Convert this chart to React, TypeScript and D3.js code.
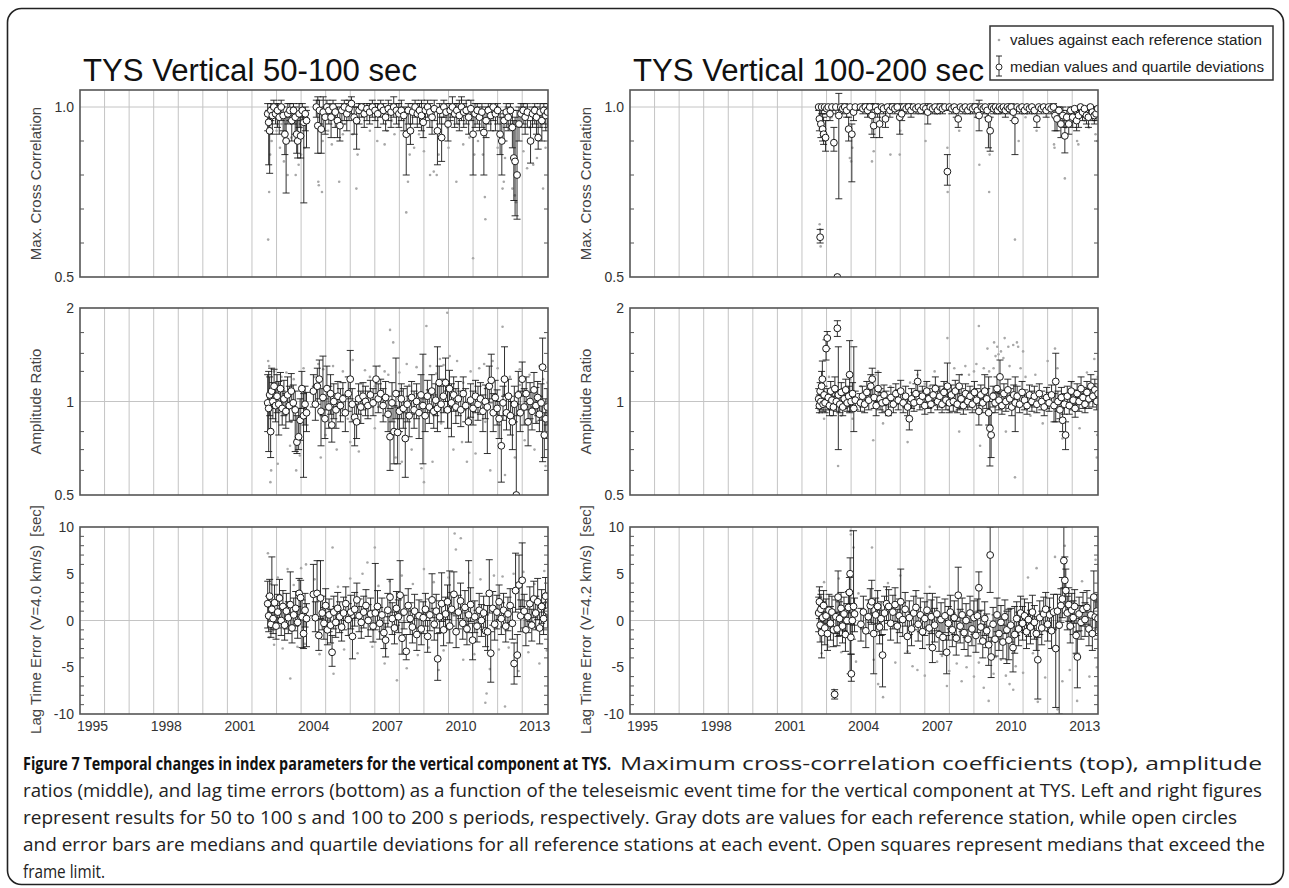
import React from 'react';
import * as d3 from 'd3';

// x axis (decimal years)
const X_DOMAIN = [1994, 2013.05];
const X_LABELS = [1995, 1998, 2001, 2004, 2007, 2010, 2013];
const GRID_YEARS = [1995, 1996, 1997, 1998, 1999, 2000, 2001, 2002, 2003, 2004, 2005, 2006, 2007, 2008, 2009, 2010, 2011, 2012];

const TITLES = ['TYS Vertical 50-100 sec', 'TYS Vertical 100-200 sec'];
const Y_TITLES = [
  ['Max. Cross Correlation', 'Amplitude Ratio', 'Lag Time Error (V=4.0 km/s)  [sec]'],
  ['Max. Cross Correlation', 'Amplitude Ratio', 'Lag Time Error (V=4.2 km/s)  [sec]'],
];

const CC_LABELS = [[1.0, '1.0'], [0.5, '0.5']];
const CC_MINOR = [0.6, 0.7, 0.8, 0.9];
const AR_LABELS = [[2, '2'], [1, '1'], [0.5, '0.5']];
const AR_MINOR = [0.6, 0.7, 0.8, 1.25, 1.4286, 1.6667];
const LT_LABELS = [[10, '10'], [5, '5'], [0, '0'], [-5, '-5'], [-10, '-10']];
const LT_MINOR = [-9, -8, -7, -6, -4, -3, -2, -1, 1, 2, 3, 4, 6, 7, 8, 9];

// events: [time, median, lower quartile, upper quartile]
// 50-100 s, max cross correlation
const CC_L = [
  [2001.64, 0.98, 0.93, 1.01], [2001.68, 0.955, 0.83, 0.99], [2001.72, 0.93, 0.805, 0.99], [2001.77, 0.99, 0.96, 1.01],
  [2001.83, 0.975, 0.92, 1.0], [2001.89, 1.0, 0.97, 1.02], [2001.96, 0.98, 0.95, 1.01], [2002.04, 0.99, 0.94, 1.01],
  [2002.11, 0.97, 0.92, 1.0], [2002.19, 1.0, 0.96, 1.02], [2002.27, 0.975, 0.93, 1.0], [2002.34, 0.92, 0.86, 0.98],
  [2002.39, 0.9, 0.747, 0.97], [2002.46, 0.98, 0.95, 1.01], [2002.54, 0.99, 0.96, 1.01], [2002.62, 0.96, 0.9, 0.99],
  [2002.69, 0.99, 0.95, 1.01], [2002.76, 0.97, 0.92, 1.0], [2002.82, 0.92, 0.864, 0.97], [2002.86, 0.9, 0.85, 0.96],
  [2002.92, 0.98, 0.94, 1.01], [2002.98, 0.915, 0.85, 0.97], [2003.05, 0.99, 0.95, 1.01], [2003.11, 0.955, 0.718, 0.99],
  [2003.17, 0.98, 0.93, 1.0], [2003.22, 0.96, 0.88, 0.99],
  [2003.62, 1.0, 0.97, 1.02], [2003.68, 0.945, 0.864, 1.03], [2003.75, 0.99, 0.95, 1.02], [2003.82, 0.935, 0.864, 0.99],
  [2003.9, 0.985, 0.93, 1.03], [2003.98, 0.97, 0.92, 1.0], [2004.05, 1.0, 0.97, 1.02], [2004.13, 0.99, 0.95, 1.01],
  [2004.22, 0.97, 0.91, 1.0], [2004.3, 1.0, 0.97, 1.02], [2004.39, 0.985, 0.94, 1.01], [2004.48, 0.96, 0.91, 1.0],
  [2004.58, 0.945, 0.9, 0.99], [2004.66, 0.99, 0.95, 1.01], [2004.76, 1.0, 0.96, 1.02], [2004.86, 0.98, 0.93, 1.01],
  [2004.95, 0.995, 0.96, 1.02], [2005.05, 1.01, 0.98, 1.03], [2005.16, 0.97, 0.92, 1.0], [2005.26, 0.96, 0.876, 1.0],
  [2005.36, 0.99, 0.95, 1.01], [2005.46, 1.0, 0.97, 1.01], [2005.57, 0.98, 0.94, 1.0], [2005.68, 0.995, 0.96, 1.01],
  [2005.79, 0.985, 0.95, 1.01], [2005.9, 1.0, 0.97, 1.02], [2006.01, 0.99, 0.96, 1.01], [2006.12, 0.98, 0.94, 1.01],
  [2006.24, 1.0, 0.97, 1.02], [2006.35, 0.99, 0.95, 1.01], [2006.44, 0.97, 0.93, 1.0], [2006.55, 0.995, 0.96, 1.02],
  [2006.66, 0.985, 0.94, 1.01], [2006.77, 1.0, 0.97, 1.03], [2006.88, 0.99, 0.95, 1.01], [2006.98, 0.98, 0.94, 1.01],
  [2007.08, 0.99, 0.96, 1.02], [2007.18, 0.975, 0.93, 1.0], [2007.28, 0.92, 0.8, 0.99], [2007.36, 0.99, 0.95, 1.01],
  [2007.45, 0.93, 0.89, 0.98], [2007.54, 0.985, 0.95, 1.01], [2007.64, 1.0, 0.97, 1.02], [2007.73, 0.98, 0.94, 1.01],
  [2007.82, 0.99, 0.95, 1.01], [2007.9, 0.975, 0.93, 1.02], [2007.97, 0.955, 0.91, 0.99], [2008.06, 0.99, 0.96, 1.01],
  [2008.15, 1.0, 0.97, 1.02], [2008.24, 0.985, 0.94, 1.01], [2008.33, 0.97, 0.92, 1.0], [2008.42, 0.995, 0.96, 1.02],
  [2008.55, 0.93, 0.83, 0.99], [2008.64, 0.99, 0.95, 1.01], [2008.72, 0.91, 0.84, 0.97], [2008.81, 1.0, 0.97, 1.02],
  [2008.9, 0.985, 0.95, 1.01], [2008.98, 0.95, 0.9, 0.99], [2009.07, 0.99, 0.96, 1.01], [2009.16, 1.0, 0.97, 1.03],
  [2009.25, 0.98, 0.94, 1.01], [2009.34, 0.99, 0.95, 1.01], [2009.44, 0.975, 0.93, 1.02], [2009.53, 1.0, 0.96, 1.03],
  [2009.62, 0.985, 0.94, 1.01], [2009.72, 0.99, 0.95, 1.02], [2009.82, 0.97, 0.92, 1.0], [2009.91, 0.995, 0.96, 1.02],
  [2010.0, 0.92, 0.8, 0.99], [2010.08, 0.98, 0.94, 1.01], [2010.17, 0.99, 0.95, 1.01], [2010.26, 0.97, 0.93, 1.0],
  [2010.36, 0.985, 0.94, 1.01], [2010.44, 0.925, 0.8, 0.99], [2010.53, 0.96, 0.91, 1.0], [2010.62, 0.99, 0.95, 1.01],
  [2010.72, 0.975, 0.93, 1.0], [2010.82, 1.0, 0.96, 1.01], [2010.91, 0.98, 0.93, 1.0], [2011.0, 0.99, 0.95, 1.01],
  [2011.1, 0.92, 0.86, 0.98], [2011.17, 0.9, 0.8, 0.97], [2011.26, 0.96, 0.9, 0.99], [2011.35, 0.985, 0.94, 1.01],
  [2011.43, 0.97, 0.93, 1.0], [2011.52, 0.99, 0.95, 1.01], [2011.6, 0.94, 0.88, 0.99], [2011.66, 0.85, 0.725, 0.96],
  [2011.71, 0.84, 0.68, 0.97], [2011.79, 0.8, 0.67, 0.99], [2011.87, 0.95, 0.9, 1.0], [2011.95, 0.98, 0.94, 1.01],
  [2012.04, 0.99, 0.95, 1.01], [2012.12, 0.97, 0.92, 1.0], [2012.21, 0.985, 0.94, 1.01], [2012.34, 0.9, 0.835, 0.96],
  [2012.42, 0.98, 0.94, 1.0], [2012.51, 0.99, 0.95, 1.01], [2012.58, 0.97, 0.92, 1.0], [2012.65, 0.91, 0.876, 0.96],
  [2012.73, 0.985, 0.94, 1.01], [2012.8, 0.96, 0.9, 0.99], [2012.88, 0.99, 0.95, 1.01], [2012.96, 0.975, 0.93, 1.0],
  [2013.03, 0.985, 0.94, 1.01],
];

// gray dots: [time, value] against each reference station
const CC_L_DOTS = [
  [2001.66, 0.61], [2001.7, 0.75], [2001.74, 0.86], [2001.8, 0.9], [2002.0, 0.93], [2002.14, 0.88], [2002.3, 0.84],
  [2002.45, 0.8], [2002.6, 0.91], [2002.78, 0.8], [2002.9, 0.83], [2003.0, 0.86], [2003.15, 0.88], [2003.7, 0.78],
  [2003.72, 0.77], [2003.85, 0.75], [2003.88, 0.9], [2004.1, 0.93], [2004.25, 0.89], [2004.55, 0.78], [2004.7, 0.92],
  [2005.25, 0.76], [2005.3, 0.86], [2005.1, 0.92], [2005.8, 0.93], [2006.1, 0.9], [2006.4, 0.89], [2006.5, 0.93],
  [2006.8, 0.92], [2007.28, 0.69], [2007.35, 0.78], [2007.42, 0.86], [2007.6, 0.88], [2007.8, 0.92], [2008.0, 0.87],
  [2008.25, 0.8], [2008.4, 0.81], [2008.52, 0.8], [2008.6, 0.86], [2008.8, 0.91], [2009.0, 0.88], [2009.32, 0.78],
  [2009.6, 0.89], [2010.0, 0.555], [2010.05, 0.86], [2010.2, 0.9], [2010.5, 0.67], [2010.48, 0.735], [2010.4, 0.86],
  [2011.0, 0.88], [2011.2, 0.76], [2011.25, 0.78], [2011.3, 0.85], [2011.6, 0.76], [2011.7, 0.74], [2011.75, 0.72],
  [2012.05, 0.87], [2012.2, 0.82], [2012.45, 0.83], [2012.6, 0.85], [2012.85, 0.76], [2012.95, 0.88], [2012.3, 0.94],
  [2009.85, 0.91], [2008.95, 0.94], [2002.2, 0.95], [2003.0, 0.94], [2004.8, 0.95], [2006.7, 0.96], [2009.4, 0.95],
];

// 50-100 s, amplitude ratio
const AR_L = [
  [2001.64, 0.99, 0.8, 1.22], [2001.68, 0.95, 0.69, 1.25], [2001.72, 1.05, 0.9, 1.2], [2001.76, 0.8, 0.66, 0.96],
  [2001.8, 1.08, 0.95, 1.28], [2001.85, 1.0, 0.88, 1.15], [2001.9, 1.12, 0.98, 1.27], [2001.96, 0.97, 0.86, 1.1],
  [2002.02, 1.04, 0.92, 1.22], [2002.09, 0.98, 0.78, 1.16], [2002.16, 1.1, 0.97, 1.24], [2002.23, 0.95, 0.84, 1.08],
  [2002.3, 1.02, 0.9, 1.17], [2002.38, 0.93, 0.82, 1.06], [2002.45, 1.05, 0.95, 1.2], [2002.52, 0.97, 0.86, 1.12],
  [2002.6, 1.08, 0.96, 1.23], [2002.68, 0.99, 0.87, 1.13], [2002.76, 0.94, 0.69, 1.08], [2002.83, 0.74, 0.68, 0.9],
  [2002.9, 0.77, 0.7, 0.95], [2002.96, 0.87, 0.75, 1.02], [2003.03, 1.1, 0.95, 1.25], [2003.1, 0.9, 0.57, 1.06],
  [2003.16, 0.98, 0.84, 1.12], [2003.22, 0.92, 0.8, 1.07],
  [2003.5, 1.08, 0.96, 1.22], [2003.58, 0.98, 0.87, 1.12], [2003.66, 1.12, 0.98, 1.28], [2003.74, 1.18, 1.02, 1.36],
  [2003.81, 0.93, 0.72, 1.1], [2003.89, 1.03, 0.9, 1.4], [2003.97, 0.88, 0.76, 1.02], [2004.05, 1.1, 0.94, 1.3],
  [2004.13, 0.96, 0.82, 1.12], [2004.2, 1.06, 0.91, 1.22], [2004.25, 0.84, 0.74, 0.96], [2004.33, 1.0, 0.88, 1.14],
  [2004.42, 0.94, 0.82, 1.06], [2004.5, 1.04, 0.94, 1.16], [2004.6, 0.97, 0.86, 1.1], [2004.7, 1.02, 0.9, 1.15],
  [2004.8, 0.92, 0.8, 1.05], [2004.92, 1.06, 0.93, 1.2], [2005.0, 1.18, 1.02, 1.46], [2005.08, 0.98, 0.86, 1.1],
  [2005.18, 0.89, 0.72, 1.0], [2005.26, 0.86, 0.76, 0.98], [2005.34, 1.02, 0.91, 1.14], [2005.43, 0.96, 0.85, 1.08],
  [2005.52, 1.04, 0.94, 1.15], [2005.62, 1.0, 0.9, 1.12], [2005.72, 0.97, 0.88, 1.08], [2005.82, 1.05, 0.96, 1.17],
  [2005.93, 0.99, 0.9, 1.1], [2006.05, 1.18, 1.06, 1.3], [2006.14, 1.02, 0.92, 1.14], [2006.24, 1.06, 0.96, 1.18],
  [2006.34, 0.97, 0.86, 1.1], [2006.44, 1.03, 0.9, 1.16], [2006.54, 0.91, 0.8, 1.04], [2006.62, 0.77, 0.6, 0.95],
  [2006.7, 0.99, 0.86, 1.15], [2006.78, 0.8, 0.63, 0.97], [2006.86, 1.06, 0.88, 1.38], [2006.93, 0.795, 0.63, 0.96],
  [2007.0, 0.93, 0.8, 1.08], [2007.08, 1.02, 0.88, 1.14], [2007.16, 0.95, 0.82, 1.1], [2007.24, 0.76, 0.57, 0.92],
  [2007.32, 0.98, 0.86, 1.12], [2007.4, 0.9, 0.77, 1.04], [2007.5, 1.03, 0.91, 1.16], [2007.6, 0.94, 0.82, 1.08],
  [2007.7, 1.0, 0.88, 1.14], [2007.8, 0.92, 0.76, 1.06], [2007.88, 1.05, 0.92, 1.22], [2007.96, 0.97, 0.63, 1.42],
  [2008.05, 0.9, 0.8, 1.02], [2008.14, 1.04, 0.92, 1.17], [2008.22, 0.96, 0.85, 1.09], [2008.32, 1.08, 0.96, 1.22],
  [2008.4, 0.93, 0.82, 1.05], [2008.48, 1.01, 0.9, 1.14], [2008.55, 0.95, 0.8, 1.5], [2008.62, 1.15, 1.0, 1.3],
  [2008.7, 0.98, 0.86, 1.12], [2008.79, 1.04, 0.92, 1.18], [2008.88, 1.15, 1.0, 1.38], [2008.96, 0.94, 0.82, 1.08],
  [2009.04, 1.1, 0.96, 1.26], [2009.12, 0.99, 0.77, 1.14], [2009.21, 1.05, 0.93, 1.2], [2009.3, 0.96, 0.85, 1.1],
  [2009.4, 1.02, 0.9, 1.16], [2009.5, 0.94, 0.83, 1.08], [2009.6, 1.06, 0.94, 1.2], [2009.7, 0.97, 0.86, 1.1],
  [2009.81, 0.86, 0.74, 0.98], [2009.9, 1.01, 0.89, 1.14], [2010.0, 0.95, 0.84, 1.08], [2010.1, 1.04, 0.92, 1.17],
  [2010.2, 0.98, 0.87, 1.12], [2010.3, 1.02, 0.91, 1.15], [2010.4, 0.93, 0.8, 1.05], [2010.5, 1.0, 0.88, 1.13],
  [2010.58, 0.96, 0.68, 1.1], [2010.66, 1.12, 0.99, 1.3], [2010.74, 1.17, 1.02, 1.42], [2010.82, 0.92, 0.8, 1.06],
  [2010.9, 1.03, 0.91, 1.17], [2010.98, 0.95, 0.84, 1.09], [2011.06, 0.88, 0.76, 1.0], [2011.15, 0.72, 0.55, 0.9],
  [2011.22, 0.99, 0.87, 1.12], [2011.28, 1.18, 1.04, 1.5], [2011.36, 0.92, 0.81, 1.05], [2011.44, 1.04, 0.9, 1.18],
  [2011.52, 0.9, 0.78, 1.04], [2011.6, 0.86, 0.7, 1.0], [2011.68, 0.98, 0.86, 1.12], [2011.76, 0.45, 0.45, 0.98],
  [2011.84, 1.05, 0.9, 1.25], [2011.92, 0.92, 0.8, 1.08], [2012.0, 1.18, 1.04, 1.34], [2012.08, 0.96, 0.84, 1.1],
  [2012.16, 1.06, 0.94, 1.2], [2012.24, 0.86, 0.72, 1.0], [2012.32, 1.0, 0.88, 1.15], [2012.4, 0.93, 0.81, 1.07],
  [2012.48, 1.09, 0.96, 1.24], [2012.56, 0.97, 0.85, 1.11], [2012.63, 1.03, 0.9, 1.16], [2012.7, 0.91, 0.8, 1.04],
  [2012.77, 0.99, 0.87, 1.14], [2012.83, 1.29, 0.64, 1.6], [2012.9, 0.78, 0.66, 0.92], [2012.96, 0.88, 0.76, 1.02],
  [2013.02, 0.96, 0.84, 1.1],
];

const AR_L_DOTS = [
  [2001.66, 1.35], [2001.7, 1.3], [2001.75, 0.55], [2001.78, 0.6], [2001.9, 1.25], [2002.05, 0.63], [2002.2, 1.2],
  [2002.4, 1.24], [2002.55, 0.72], [2002.7, 1.18], [2002.8, 0.6], [2002.95, 0.67], [2003.1, 1.28], [2003.55, 1.2],
  [2003.7, 1.32], [2003.8, 0.66], [2003.9, 1.27], [2004.0, 0.78], [2004.3, 1.3], [2004.45, 0.7], [2004.7, 1.25],
  [2005.0, 0.74], [2005.1, 1.36], [2005.35, 0.69], [2005.6, 1.26], [2005.8, 1.2], [2006.0, 0.82], [2006.2, 1.3],
  [2006.4, 1.25], [2006.55, 1.22], [2006.62, 1.7], [2006.75, 1.55], [2006.85, 0.66], [2007.0, 1.24], [2007.1, 0.64],
  [2007.3, 1.32], [2007.5, 0.7], [2007.7, 1.29], [2007.9, 0.61], [2008.0, 0.55], [2008.1, 1.75], [2008.25, 1.3],
  [2008.35, 0.64], [2008.5, 1.23], [2008.65, 1.37], [2008.8, 1.31], [2008.95, 1.93], [2009.05, 1.4], [2009.2, 0.7],
  [2009.35, 1.35], [2009.55, 0.74], [2009.75, 0.64], [2009.9, 1.25], [2010.1, 0.68], [2010.25, 1.28], [2010.45, 1.32],
  [2010.7, 0.6], [2010.8, 1.35], [2011.0, 1.28], [2011.2, 1.74], [2011.3, 0.58], [2011.5, 1.2], [2011.7, 0.66],
  [2011.9, 1.27], [2012.1, 0.75], [2012.3, 1.22], [2012.5, 0.7], [2012.7, 1.3], [2012.85, 1.18], [2012.95, 0.62],
  [2013.03, 1.15], [2002.1, 1.14], [2002.6, 0.86], [2004.9, 0.88], [2006.0, 1.12], [2007.4, 1.13], [2008.7, 0.85],
  [2009.6, 1.15], [2010.5, 0.86], [2011.9, 1.13], [2012.6, 0.86],
];

// 50-100 s, lag time error (s)
const LT_L = [
  [2001.64, 1.8, -0.8, 4.2], [2001.68, 0.5, -1.2, 2.6], [2001.72, 2.6, 0.2, 4.4], [2001.77, -0.4, -1.8, 1.4],
  [2001.81, 1.2, -1.0, 6.8], [2001.86, 0.2, -1.4, 1.9], [2001.92, 1.9, -0.2, 3.8], [2001.98, -0.6, -2.0, 1.0],
  [2002.05, 0.9, -0.8, 2.8], [2002.12, 2.4, 0.3, 4.4], [2002.19, 0.0, -1.6, 1.6], [2002.26, 1.5, -0.3, 3.2],
  [2002.33, -0.5, -2.1, 1.2], [2002.4, 1.0, -0.9, 2.9], [2002.48, 0.3, -1.4, 2.0], [2002.56, 1.7, -0.5, 5.2],
  [2002.63, -0.8, -2.4, 0.8], [2002.7, 0.6, -1.1, 2.4], [2002.78, 1.3, -0.6, 3.1], [2002.86, -0.2, -1.9, 1.5],
  [2002.92, 2.9, 0.6, 4.5], [2002.98, 2.45, 0.4, 4.3], [2003.04, 0.4, -2.9, 2.2], [2003.1, -1.4, -3.0, 0.2],
  [2003.16, 1.1, -0.7, 2.9], [2003.22, 0.2, -2.8, 1.8],
  [2003.5, 2.8, 0.5, 6.0], [2003.58, 0.3, -1.2, 2.0], [2003.65, 2.9, 0.4, 6.4], [2003.72, -1.6, -3.2, 0.1],
  [2003.79, 2.4, 0.2, 6.4], [2003.86, 0.8, -1.0, 2.6], [2003.93, -0.3, -2.0, 1.4], [2004.0, 1.6, -0.4, 3.4],
  [2004.07, -1.0, -2.6, 0.6], [2004.14, 0.6, -1.2, 2.3], [2004.2, -0.5, -2.4, 1.2], [2004.26, -3.4, -4.9, -1.6],
  [2004.33, 0.9, -0.9, 2.6], [2004.41, -0.2, -1.8, 1.5], [2004.49, 1.3, -0.5, 3.0], [2004.57, 0.4, -1.3, 2.0],
  [2004.65, -0.7, -2.2, 1.0], [2004.73, 0.8, -1.0, 2.5], [2004.82, 1.8, 0.0, 3.6], [2004.92, 0.1, -1.6, 1.8],
  [2005.02, 0.9, -0.9, 2.7], [2005.09, -1.7, -4.1, 0.2], [2005.18, 1.2, -0.6, 3.0], [2005.27, 2.2, 0.3, 4.0],
  [2005.36, 0.5, -1.2, 2.3], [2005.45, -0.2, -1.9, 1.5], [2005.55, 0.9, -0.8, 2.6], [2005.64, 1.6, -0.2, 3.3],
  [2005.73, 0.0, -1.7, 1.7], [2005.83, 0.7, -1.0, 2.4], [2005.93, -0.6, -2.3, 1.1], [2006.02, 0.8, -1.0, 6.1],
  [2006.11, 1.5, -0.3, 3.2], [2006.2, -0.3, -2.0, 1.4], [2006.29, 0.6, -1.2, 2.4], [2006.37, -1.3, -3.0, 0.4],
  [2006.44, -2.1, -3.9, -0.3], [2006.53, 1.1, -0.7, 2.9], [2006.62, 2.5, 0.4, 4.4], [2006.71, 0.2, -1.5, 1.9],
  [2006.8, -0.8, -2.5, 0.9], [2006.88, 1.3, -0.5, 3.1], [2006.96, 0.4, -1.3, 2.2], [2007.03, 2.7, 0.5, 6.4],
  [2007.11, -1.9, -3.6, -0.2], [2007.19, 0.9, -0.9, 2.7], [2007.28, -3.3, -4.2, -1.5], [2007.36, 1.6, -0.2, 3.4],
  [2007.44, 0.2, -1.5, 1.9], [2007.53, -0.7, -2.4, 1.0], [2007.62, 1.0, -0.8, 2.8], [2007.71, -1.5, -3.2, 0.2],
  [2007.8, 0.5, -1.2, 2.2], [2007.89, -0.9, -2.6, 0.8], [2007.97, 0.3, -1.4, 2.0], [2008.06, 1.2, -0.6, 2.9],
  [2008.15, -1.7, -3.4, 0.0], [2008.24, 0.6, -1.1, 2.3], [2008.33, 2.2, 0.3, 5.0], [2008.42, -0.4, -2.1, 1.3],
  [2008.5, 1.0, -0.8, 2.8], [2008.56, -4.1, -6.4, -1.4], [2008.64, 0.4, -1.3, 2.1], [2008.72, 1.8, -0.1, 5.1],
  [2008.8, -1.0, -2.7, 0.7], [2008.88, 0.7, -1.0, 2.5], [2008.96, 2.0, 0.1, 3.8], [2009.05, -0.6, -2.4, 5.3],
  [2009.13, 1.2, -0.6, 3.0], [2009.22, 2.8, 0.7, 5.2], [2009.31, -1.2, -2.9, 0.5], [2009.4, 0.9, -0.9, 2.7],
  [2009.49, 2.1, 0.2, 4.0], [2009.58, -0.3, -2.0, 1.4], [2009.67, 1.4, -0.4, 3.2], [2009.75, -0.9, -2.6, 0.8],
  [2009.82, 0.6, -1.3, 6.4], [2009.9, 1.7, -0.1, 3.5], [2009.98, -2.1, -4.2, -0.3], [2010.07, 0.4, -1.3, 2.1],
  [2010.16, -0.6, -2.3, 1.1], [2010.25, 1.1, -0.7, 2.9], [2010.34, 0.0, -1.7, 1.7], [2010.43, 0.8, -1.0, 2.6],
  [2010.51, -1.1, -2.8, 0.6], [2010.59, -1.2, -3.2, 1.6], [2010.66, 2.9, 0.8, 6.5], [2010.72, -3.5, -6.6, -1.2],
  [2010.8, 1.3, -0.5, 3.1], [2010.88, -0.4, -2.1, 1.3], [2010.97, 0.9, -0.9, 2.7], [2011.06, 2.0, 0.1, 3.8],
  [2011.15, 0.2, -1.5, 1.9], [2011.24, 1.1, -0.7, 2.9], [2011.33, -0.6, -2.3, 1.1], [2011.42, 0.7, -1.1, 2.5],
  [2011.51, 1.6, -0.2, 3.4], [2011.6, -0.3, -2.0, 1.4], [2011.67, -4.6, -6.8, -2.4], [2011.73, 3.2, 0.9, 7.2],
  [2011.8, -3.7, -6.0, -1.5], [2011.87, 3.8, 1.2, 7.0], [2011.94, 0.5, -1.2, 2.2], [2012.0, 4.3, 1.5, 8.3],
  [2012.08, 1.0, -0.8, 2.8], [2012.15, -1.0, -2.7, 0.7], [2012.23, 0.4, -1.3, 2.1], [2012.31, 1.8, -0.1, 3.6],
  [2012.39, -0.5, -2.2, 1.2], [2012.47, 2.3, 0.3, 4.2], [2012.55, 0.8, -1.0, 2.6], [2012.63, 2.0, 0.1, 4.5],
  [2012.71, -0.8, -2.5, 0.9], [2012.79, 1.5, -0.3, 3.3], [2012.87, 0.2, -1.5, 1.9], [2012.95, 2.6, 0.5, 4.6],
  [2013.03, 1.0, -0.8, 2.8],
];

const LT_L_DOTS = [
  [2001.65, 7.2], [2001.7, -1.8], [2001.76, 3.9], [2001.9, -2.6], [2002.05, 4.6], [2002.25, -3.0], [2002.45, 5.5],
  [2002.56, -6.2], [2002.7, 3.8], [2002.85, -2.8], [2003.0, 5.6], [2003.15, -2.5], [2003.55, 4.4], [2003.75, -3.6],
  [2004.28, 7.8], [2004.32, -5.7], [2004.5, 3.6], [2004.75, -3.1], [2005.0, 4.5], [2005.3, -3.5], [2005.5, 5.0],
  [2005.7, 6.2], [2005.9, -2.8], [2006.15, 3.7], [2006.4, -4.6], [2006.6, 4.2], [2006.9, -6.4], [2007.1, 4.8],
  [2007.3, -5.1], [2007.55, 3.9], [2007.75, -3.7], [2008.0, 5.5], [2008.2, -2.9], [2008.4, 4.1], [2008.6, -5.3],
  [2008.8, -3.2], [2009.0, 4.6], [2009.25, 9.3], [2009.3, 7.6], [2009.5, 8.8], [2009.6, -4.2], [2009.85, 5.1],
  [2010.05, -3.6], [2010.3, 4.4], [2010.5, -8.8], [2010.55, -7.8], [2010.68, -5.2], [2010.85, 4.8], [2011.05, -3.1],
  [2011.2, 4.7], [2011.45, -2.9], [2011.65, 5.0], [2011.85, -5.4], [2012.05, 5.2], [2012.25, -3.4], [2012.5, 3.9],
  [2012.7, -4.6], [2012.9, 5.3], [2013.0, -3.2], [2003.2, 6.0], [2006.0, 7.8], [2011.3, -9.2],
];

// 100-200 s, max cross correlation
const CC_R = [
  [2001.68, 1.0, 0.99, 1.0], [2001.71, 0.965, 0.93, 0.99], [2001.74, 0.617, 0.6, 0.64], [2001.77, 0.95, 0.91, 0.99],
  [2001.8, 1.0, 0.98, 1.0], [2001.84, 0.935, 0.9, 0.98], [2001.88, 0.92, 0.89, 0.97], [2001.92, 1.0, 0.99, 1.0],
  [2001.96, 0.91, 0.87, 0.96], [2002.01, 0.995, 0.98, 1.0], [2002.07, 1.0, 0.99, 1.0], [2002.14, 0.98, 0.96, 1.0],
  [2002.22, 1.0, 0.99, 1.0], [2002.3, 0.895, 0.87, 0.94], [2002.38, 1.0, 0.98, 1.0], [2002.44, 0.45, 0.45, 0.45],
  [2002.5, 0.975, 0.73, 1.04], [2002.58, 1.0, 0.99, 1.0], [2002.66, 0.995, 0.98, 1.0], [2002.74, 1.0, 0.99, 1.01],
  [2002.82, 0.99, 0.97, 1.0], [2002.9, 0.935, 0.9, 0.97], [2002.96, 1.0, 0.99, 1.0], [2003.03, 0.92, 0.78, 0.95],
  [2003.1, 0.985, 0.96, 1.0], [2003.17, 1.0, 0.99, 1.0], [2003.38, 1.0, 0.99, 1.0], [2003.48, 0.995, 0.98, 1.0],
  [2003.58, 1.0, 0.99, 1.01], [2003.67, 0.99, 0.97, 1.0], [2003.76, 1.0, 0.98, 1.01], [2003.85, 0.975, 0.92, 1.01],
  [2003.92, 0.945, 0.91, 0.98], [2004.0, 1.0, 0.98, 1.01], [2004.08, 0.99, 0.97, 1.0], [2004.16, 0.95, 0.91, 0.99],
  [2004.24, 1.0, 0.99, 1.0], [2004.32, 0.995, 0.98, 1.0], [2004.4, 0.965, 0.94, 0.99], [2004.48, 1.0, 0.99, 1.0],
  [2004.58, 0.99, 0.97, 1.0], [2004.68, 1.0, 0.99, 1.01], [2004.78, 0.995, 0.98, 1.0], [2004.88, 1.0, 0.99, 1.0],
  [2004.98, 0.97, 0.92, 1.01], [2005.06, 0.98, 0.96, 1.0], [2005.14, 1.0, 0.99, 1.0], [2005.24, 0.995, 0.98, 1.0],
  [2005.34, 1.0, 0.99, 1.01], [2005.44, 0.99, 0.97, 1.0], [2005.54, 1.0, 0.99, 1.0], [2005.64, 0.995, 0.98, 1.0],
  [2005.74, 1.0, 0.99, 1.0], [2005.84, 0.99, 0.98, 1.0], [2005.94, 1.0, 0.99, 1.0], [2006.04, 0.995, 0.98, 1.0],
  [2006.12, 0.985, 0.95, 1.01], [2006.22, 1.0, 0.99, 1.0], [2006.32, 0.995, 0.98, 1.0], [2006.42, 1.0, 0.99, 1.0],
  [2006.52, 0.99, 0.98, 1.0], [2006.62, 1.0, 0.99, 1.01], [2006.72, 0.995, 0.98, 1.0], [2006.82, 1.0, 0.99, 1.0],
  [2006.92, 0.81, 0.77, 0.86], [2007.0, 1.0, 0.99, 1.0], [2007.1, 0.995, 0.98, 1.0], [2007.2, 1.0, 0.99, 1.0],
  [2007.28, 0.99, 0.97, 1.0], [2007.36, 0.965, 0.94, 0.99], [2007.45, 1.0, 0.99, 1.0], [2007.55, 0.995, 0.98, 1.0],
  [2007.65, 1.0, 0.99, 1.0], [2007.75, 0.99, 0.98, 1.0], [2007.85, 1.0, 0.99, 1.0], [2007.95, 0.995, 0.98, 1.0],
  [2008.05, 1.0, 0.99, 1.01], [2008.14, 0.99, 0.97, 1.0], [2008.21, 0.975, 0.93, 1.02], [2008.3, 1.0, 0.99, 1.0],
  [2008.38, 0.995, 0.98, 1.0], [2008.46, 1.0, 0.99, 1.0], [2008.54, 0.99, 0.97, 1.0], [2008.59, 0.965, 0.88, 0.99],
  [2008.66, 0.93, 0.87, 0.97], [2008.72, 1.0, 0.99, 1.01], [2008.8, 0.995, 0.98, 1.0], [2008.88, 1.0, 0.99, 1.0],
  [2008.96, 0.99, 0.98, 1.0], [2009.04, 1.0, 0.99, 1.0], [2009.12, 0.995, 0.98, 1.0], [2009.2, 1.0, 0.99, 1.0],
  [2009.28, 0.99, 0.97, 1.0], [2009.36, 1.0, 0.99, 1.0], [2009.44, 0.995, 0.98, 1.0], [2009.52, 1.0, 0.99, 1.01],
  [2009.6, 0.985, 0.96, 1.0], [2009.67, 0.96, 0.86, 1.0], [2009.76, 1.0, 0.99, 1.0], [2009.86, 0.995, 0.98, 1.0],
  [2009.96, 1.0, 0.99, 1.0], [2010.06, 0.99, 0.98, 1.0], [2010.16, 1.0, 0.99, 1.0], [2010.26, 0.995, 0.98, 1.0],
  [2010.36, 1.0, 0.99, 1.0], [2010.46, 0.99, 0.98, 1.0], [2010.56, 0.965, 0.94, 0.99], [2010.64, 1.0, 0.99, 1.0],
  [2010.74, 0.995, 0.98, 1.0], [2010.84, 1.0, 0.99, 1.0], [2010.94, 0.99, 0.97, 1.0], [2011.04, 1.0, 0.99, 1.0],
  [2011.14, 0.995, 0.98, 1.0], [2011.24, 1.0, 0.99, 1.01], [2011.3, 0.975, 0.93, 1.0], [2011.38, 0.965, 0.93, 0.99],
  [2011.46, 0.99, 0.97, 1.0], [2011.54, 0.95, 0.91, 0.99], [2011.62, 0.975, 0.94, 1.0], [2011.7, 0.915, 0.865, 0.96],
  [2011.78, 0.97, 0.94, 0.99], [2011.86, 0.95, 0.92, 0.98], [2011.94, 0.99, 0.97, 1.0], [2012.02, 0.97, 0.94, 0.99],
  [2012.1, 0.995, 0.98, 1.0], [2012.18, 0.96, 0.93, 0.99], [2012.26, 0.975, 0.94, 1.0], [2012.34, 1.0, 0.99, 1.0],
  [2012.42, 0.985, 0.96, 1.0], [2012.5, 0.995, 0.98, 1.0], [2012.58, 0.975, 0.95, 1.0], [2012.66, 0.97, 0.94, 0.99],
  [2012.74, 1.0, 0.99, 1.0], [2012.82, 0.985, 0.96, 1.0], [2012.9, 0.975, 0.95, 1.0], [2012.97, 0.98, 0.96, 1.0],
  [2013.04, 0.995, 0.98, 1.0],
];

const CC_R_DOTS = [
  [2001.72, 0.655], [2001.74, 0.64], [2001.76, 0.59], [2001.9, 0.94], [2002.95, 0.85], [2003.0, 0.84], [2003.05, 0.88],
  [2003.85, 0.84], [2003.92, 0.87], [2004.6, 0.86], [2004.98, 0.86], [2005.0, 0.93], [2006.03, 0.9], [2006.92, 0.88],
  [2006.93, 0.75], [2007.4, 0.93], [2008.22, 0.83], [2008.62, 0.75], [2008.64, 0.86], [2009.67, 0.61], [2009.82, 0.9],
  [2010.55, 0.93], [2011.26, 0.89], [2011.28, 0.88], [2011.7, 0.79], [2011.75, 0.94], [2012.2, 0.9], [2012.25, 0.89],
  [2012.68, 0.94], [2012.95, 0.92], [2013.02, 0.9], [2002.2, 0.97], [2004.3, 0.97], [2006.5, 0.98], [2008.1, 0.97],
  [2010.1, 0.97], [2011.5, 0.96], [2012.5, 0.96],
];

// 100-200 s, amplitude ratio
const AR_R = [
  [2001.68, 1.02, 0.95, 1.1], [2001.71, 0.97, 0.92, 1.05], [2001.74, 1.08, 0.99, 1.15], [2001.77, 1.0, 0.94, 1.07],
  [2001.8, 1.12, 1.02, 1.25], [2001.83, 1.18, 1.06, 1.35], [2001.86, 0.98, 0.93, 1.04], [2001.9, 1.05, 0.97, 1.12],
  [2001.94, 0.99, 0.92, 1.06], [2001.98, 1.48, 1.36, 1.58], [2002.03, 1.6, 1.48, 1.68], [2002.07, 1.03, 0.94, 1.1],
  [2002.12, 0.97, 0.9, 1.05], [2002.17, 1.08, 0.98, 1.16], [2002.22, 1.01, 0.94, 1.09], [2002.28, 0.96, 0.9, 1.04],
  [2002.34, 1.1, 1.0, 1.2], [2002.4, 1.0, 0.93, 1.07], [2002.44, 1.72, 1.62, 1.82], [2002.48, 1.05, 0.7, 1.5],
  [2002.54, 0.98, 0.92, 1.06], [2002.6, 1.07, 0.98, 1.15], [2002.66, 0.96, 0.9, 1.03], [2002.72, 1.02, 0.95, 1.1],
  [2002.78, 1.09, 1.0, 1.18], [2002.84, 0.99, 0.93, 1.06], [2002.9, 1.04, 0.96, 1.12], [2002.94, 1.22, 0.92, 1.57],
  [2003.0, 1.0, 0.93, 1.08], [2003.06, 1.06, 0.97, 1.15], [2003.11, 0.95, 0.8, 1.5], [2003.17, 1.01, 0.94, 1.08],
  [2003.38, 0.99, 0.93, 1.06], [2003.46, 1.04, 0.96, 1.12], [2003.55, 0.98, 0.92, 1.05], [2003.64, 1.07, 0.99, 1.16],
  [2003.72, 1.01, 0.94, 1.09], [2003.8, 1.12, 1.02, 1.22], [2003.86, 1.18, 1.05, 1.28], [2003.94, 1.03, 0.95, 1.11],
  [2004.02, 0.97, 0.9, 1.04], [2004.1, 1.1, 1.0, 1.24], [2004.18, 1.02, 0.94, 1.1], [2004.26, 0.99, 0.92, 1.07],
  [2004.34, 1.05, 0.97, 1.13], [2004.42, 1.0, 0.93, 1.08], [2004.52, 0.92, 0.9, 1.02], [2004.62, 1.03, 0.96, 1.11],
  [2004.72, 0.98, 0.92, 1.05], [2004.82, 1.06, 0.98, 1.14], [2004.92, 1.01, 0.94, 1.09], [2005.02, 1.08, 0.99, 1.17],
  [2005.12, 0.99, 0.92, 1.06], [2005.22, 1.04, 0.96, 1.12], [2005.3, 0.96, 0.9, 1.03], [2005.37, 0.88, 0.81, 0.96],
  [2005.46, 1.02, 0.95, 1.1], [2005.56, 0.99, 0.93, 1.07], [2005.64, 1.06, 0.98, 1.14], [2005.71, 1.16, 1.04, 1.26],
  [2005.8, 1.0, 0.94, 1.08], [2005.9, 1.04, 0.96, 1.12], [2006.0, 0.97, 0.91, 1.04], [2006.08, 1.08, 0.99, 1.16],
  [2006.16, 1.02, 0.95, 1.1], [2006.25, 0.98, 0.92, 1.05], [2006.34, 1.05, 0.97, 1.13], [2006.43, 1.1, 1.01, 1.2],
  [2006.52, 1.0, 0.94, 1.08], [2006.61, 1.04, 0.96, 1.12], [2006.7, 0.98, 0.92, 1.06], [2006.78, 1.07, 0.99, 1.16],
  [2006.86, 1.01, 0.94, 1.1], [2006.92, 1.12, 0.97, 1.33], [2007.0, 0.99, 0.92, 1.07], [2007.08, 1.05, 0.97, 1.13],
  [2007.16, 1.0, 0.93, 1.08], [2007.24, 1.08, 1.0, 1.17], [2007.32, 0.98, 0.92, 1.06], [2007.4, 1.12, 0.94, 1.22],
  [2007.48, 1.02, 0.95, 1.1], [2007.57, 0.97, 0.91, 1.04], [2007.66, 1.06, 0.98, 1.14], [2007.75, 1.0, 0.94, 1.08],
  [2007.84, 1.04, 0.96, 1.12], [2007.93, 0.98, 0.92, 1.06], [2008.02, 1.07, 0.99, 1.16], [2008.11, 1.01, 0.94, 1.1],
  [2008.2, 0.93, 0.84, 1.02], [2008.28, 1.05, 0.97, 1.13], [2008.36, 0.99, 0.92, 1.07], [2008.44, 1.08, 1.0, 1.22],
  [2008.52, 1.02, 0.95, 1.1], [2008.6, 0.92, 0.84, 1.2], [2008.65, 0.82, 0.62, 1.0], [2008.7, 0.78, 0.66, 0.92],
  [2008.78, 1.04, 0.96, 1.12], [2008.86, 0.99, 0.92, 1.07], [2008.94, 1.1, 1.01, 1.2], [2009.02, 1.01, 0.94, 1.09],
  [2009.06, 1.2, 1.06, 1.36], [2009.14, 0.97, 0.91, 1.05], [2009.22, 1.06, 0.98, 1.14], [2009.3, 1.0, 0.93, 1.08],
  [2009.38, 1.09, 1.0, 1.18], [2009.46, 1.02, 0.95, 1.1], [2009.54, 0.96, 0.9, 1.04], [2009.62, 1.05, 0.97, 1.13],
  [2009.68, 0.99, 0.8, 1.2], [2009.76, 1.04, 0.96, 1.12], [2009.86, 0.98, 0.92, 1.06], [2009.96, 1.07, 0.99, 1.16],
  [2010.06, 1.01, 0.94, 1.09], [2010.16, 0.97, 0.91, 1.05], [2010.26, 1.05, 0.97, 1.13], [2010.36, 1.0, 0.93, 1.08],
  [2010.46, 1.04, 0.96, 1.12], [2010.56, 0.98, 0.92, 1.06], [2010.66, 1.06, 0.98, 1.14], [2010.76, 1.0, 0.94, 1.08],
  [2010.86, 0.96, 0.9, 1.04], [2010.96, 1.03, 0.95, 1.11], [2011.06, 0.99, 0.93, 1.07], [2011.16, 1.05, 0.97, 1.13],
  [2011.26, 0.97, 0.86, 1.06], [2011.33, 1.16, 0.86, 1.43], [2011.42, 1.0, 0.93, 1.08], [2011.5, 0.94, 0.88, 1.02],
  [2011.56, 1.03, 0.95, 1.11], [2011.61, 0.87, 0.8, 0.96], [2011.68, 0.98, 0.91, 1.06], [2011.73, 0.78, 0.7, 0.86],
  [2011.8, 1.04, 0.96, 1.12], [2011.88, 0.97, 0.91, 1.05], [2011.96, 1.08, 0.99, 1.16], [2012.04, 1.01, 0.94, 1.09],
  [2012.12, 0.95, 0.89, 1.03], [2012.2, 1.06, 0.98, 1.14], [2012.28, 1.0, 0.93, 1.08], [2012.36, 1.1, 1.01, 1.2],
  [2012.44, 1.03, 0.95, 1.11], [2012.52, 0.98, 0.92, 1.06], [2012.6, 1.07, 0.99, 1.16], [2012.68, 1.02, 0.95, 1.1],
  [2012.76, 1.12, 1.02, 1.22], [2012.84, 1.04, 0.96, 1.12], [2012.92, 1.09, 1.0, 1.18], [2013.0, 1.0, 0.94, 1.08],
  [2013.05, 1.06, 0.98, 1.14],
];

const AR_R_DOTS = [
  [2001.7, 0.92], [2001.8, 1.16], [2001.9, 0.88], [2002.1, 1.2], [2002.47, 0.62], [2002.6, 0.9], [2002.95, 1.18],
  [2003.05, 0.88], [2003.4, 1.12], [2003.85, 1.16], [2003.9, 0.75], [2004.0, 1.22], [2004.1, 1.25], [2004.3, 0.85],
  [2004.6, 1.12], [2005.3, 0.74], [2005.4, 1.15], [2005.7, 1.22], [2006.0, 1.14], [2006.2, 1.12], [2006.4, 1.25],
  [2006.8, 1.14], [2006.92, 1.6], [2006.95, 0.94], [2007.2, 1.28], [2007.4, 0.8], [2007.5, 1.22], [2007.65, 1.3],
  [2007.8, 1.22], [2008.0, 1.25], [2008.1, 1.32], [2008.2, 1.75], [2008.25, 0.72], [2008.4, 1.28], [2008.55, 1.48],
  [2008.62, 1.25], [2008.8, 1.28], [2008.82, 1.55], [2008.88, 1.4], [2008.95, 1.5], [2009.0, 1.42], [2009.1, 1.45],
  [2009.2, 1.38], [2009.25, 1.6], [2009.3, 0.8], [2009.4, 1.5], [2009.45, 1.3], [2009.6, 1.52], [2009.67, 0.57],
  [2009.75, 1.55], [2009.8, 1.5], [2009.9, 1.28], [2010.0, 1.45], [2010.1, 1.2], [2010.3, 0.9], [2010.5, 1.22],
  [2010.8, 0.85], [2011.0, 1.35], [2011.3, 1.48], [2011.4, 1.28], [2011.6, 0.76], [2012.0, 1.15], [2012.3, 0.82],
  [2012.6, 1.24], [2012.9, 1.37], [2013.0, 0.66], [2013.02, 0.78], [2013.04, 1.2],
];

// 100-200 s, lag time error (s)
const LT_R = [
  [2001.68, 0.8, -1.2, 2.5], [2001.71, 2.0, 0.2, 3.6], [2001.74, -0.5, -2.3, 1.2], [2001.77, 1.2, -0.8, 2.8],
  [2001.8, -1.3, -4.0, 0.5], [2001.84, 0.3, -1.5, 2.0], [2001.88, 1.6, -0.3, 3.2], [2001.93, -0.8, -2.6, 1.0],
  [2001.98, 0.5, -1.3, 2.3], [2002.04, -1.4, -3.2, 0.3], [2002.1, 1.1, -0.7, 2.8], [2002.16, -0.3, -2.1, 1.5],
  [2002.22, 0.9, -0.9, 2.6], [2002.28, -1.0, -2.8, 0.8], [2002.33, -7.9, -8.4, -7.4], [2002.38, 0.4, -1.4, 2.2],
  [2002.43, -0.9, -2.7, 0.9], [2002.47, 2.5, -1.7, 5.3], [2002.53, 0.2, -1.6, 2.0], [2002.59, 1.3, -0.5, 3.0],
  [2002.65, -0.6, -2.4, 1.2], [2002.71, 0.7, -1.1, 2.5], [2002.77, -1.5, -3.3, 0.3], [2002.83, 0.0, -1.8, 1.8],
  [2002.89, 1.4, -0.4, 3.1], [2002.93, 3.0, 0.8, 4.6], [2002.96, 5.0, -5.7, 6.7], [2002.99, -1.8, -3.6, 0.0],
  [2003.01, -5.7, -6.5, -3.6], [2003.05, 0.0, -2.0, 1.8], [2003.1, 1.5, -0.5, 9.6], [2003.14, 0.7, -1.2, 2.4],
  [2003.4, -0.4, -2.2, 1.3], [2003.5, 0.9, -0.9, 2.6], [2003.6, -1.1, -2.9, 0.7], [2003.7, 0.4, -1.4, 2.2],
  [2003.78, 1.6, -0.2, 3.4], [2003.84, 2.0, -0.4, 4.3], [2003.92, -1.4, -5.7, 0.8], [2004.0, 0.6, -1.2, 2.4],
  [2004.08, 1.5, -0.3, 3.2], [2004.16, -0.7, -2.5, 1.1], [2004.22, 0.2, -1.6, 2.0], [2004.28, -3.7, -7.1, -1.5],
  [2004.36, 0.8, -1.0, 2.6], [2004.44, 1.8, 0.0, 3.6], [2004.53, 1.5, -0.3, 3.3], [2004.61, -0.3, -2.1, 1.5],
  [2004.7, 0.9, -0.9, 2.7], [2004.79, 1.7, -0.1, 3.5], [2004.88, -0.6, -2.4, 1.2], [2004.96, 0.5, -1.3, 2.3],
  [2005.02, 2.0, -0.2, 5.5], [2005.1, 0.1, -1.7, 1.9], [2005.2, 1.2, -0.6, 3.0], [2005.29, -1.7, -3.5, 0.1],
  [2005.37, 0.3, -1.5, 2.1], [2005.46, -0.9, -2.7, 0.9], [2005.55, 0.8, -1.0, 2.6], [2005.64, 1.4, -0.4, 3.2],
  [2005.73, -0.4, -2.2, 1.4], [2005.82, 0.6, -1.2, 2.4], [2005.91, -1.2, -3.0, 0.6], [2006.0, 0.2, -1.6, 2.0],
  [2006.09, 1.1, -0.7, 2.9], [2006.18, -0.8, -2.6, 1.0], [2006.26, 0.4, -1.4, 2.2], [2006.31, -2.9, -4.5, 2.9],
  [2006.4, -0.5, -2.3, 1.3], [2006.49, 0.7, -1.1, 2.5], [2006.58, -1.5, -3.3, 0.3], [2006.66, 0.1, -1.7, 1.9],
  [2006.74, -1.8, -3.6, 0.0], [2006.82, 0.5, -1.3, 2.3], [2006.89, -3.4, -5.7, -1.6], [2006.96, -0.3, -2.1, 1.5],
  [2007.04, 0.9, -0.9, 2.7], [2007.12, -1.0, -2.8, 0.8], [2007.2, 0.3, -1.5, 2.1], [2007.28, -1.9, -3.7, -0.1],
  [2007.36, 2.7, 0.3, 5.7], [2007.44, -0.6, -2.4, 1.2], [2007.52, 0.6, -1.2, 2.4], [2007.6, -1.3, -3.1, 0.5],
  [2007.68, 0.0, -1.8, 1.8], [2007.76, -2.0, -3.8, -0.2], [2007.84, 0.8, -1.0, 2.6], [2007.92, -0.9, -2.7, 0.9],
  [2008.0, 0.3, -1.5, 2.1], [2008.08, -1.6, -3.4, 0.2], [2008.14, 0.5, -1.3, 2.3], [2008.2, 3.5, 1.0, 5.2],
  [2008.28, -0.7, -2.5, 1.1], [2008.36, -2.2, -4.0, -0.4], [2008.44, 0.2, -1.6, 2.0], [2008.52, -1.1, -2.9, 0.7],
  [2008.6, -2.6, -4.8, -0.6], [2008.66, 7.0, 3.0, 10.5], [2008.7, -3.9, -6.1, -1.8], [2008.78, -0.4, -2.2, 1.4],
  [2008.86, -2.0, -3.8, 0.6], [2008.94, 0.6, -1.2, 2.4], [2009.02, -1.4, -3.2, 0.4], [2009.1, -0.2, -2.0, 1.6],
  [2009.18, -2.3, -4.1, -0.5], [2009.26, 0.4, -1.4, 2.2], [2009.34, -1.0, -4.6, 1.0], [2009.42, -2.1, -4.2, 1.2],
  [2009.5, -0.5, -2.3, 1.3], [2009.59, -2.9, -5.5, -0.6], [2009.66, -1.5, -3.5, 1.5], [2009.74, 0.2, -1.6, 2.0],
  [2009.82, -0.9, -2.7, 0.9], [2009.9, 0.8, -1.0, 2.6], [2009.98, -0.3, -2.1, 1.5], [2010.06, 0.5, -1.3, 2.3],
  [2010.14, -1.2, -3.0, 0.6], [2010.22, 0.1, -1.7, 1.9], [2010.3, -0.7, -2.5, 1.1], [2010.38, 0.9, -0.9, 2.7],
  [2010.46, -0.2, -2.0, 1.6], [2010.54, -1.4, -3.2, 0.4], [2010.6, -4.2, -8.4, -1.8], [2010.68, 0.3, -1.5, 2.1],
  [2010.76, -0.8, -2.6, 1.0], [2010.84, 0.7, -1.1, 2.5], [2010.92, 1.2, -0.6, 3.0], [2011.0, -0.4, -2.2, 1.4],
  [2011.08, 0.6, -1.2, 2.4], [2011.16, -1.1, -3.0, 0.7], [2011.24, 0.9, -1.0, 2.8], [2011.33, -3.0, -9.3, 1.0],
  [2011.4, 1.0, -0.8, 2.8], [2011.47, -0.5, -10.5, 1.3], [2011.54, 1.6, -0.2, 3.4], [2011.6, 2.3, 0.3, 4.6],
  [2011.66, 6.4, 3.5, 10.5], [2011.7, 4.3, 1.5, 6.8], [2011.74, 3.2, 0.8, 5.5], [2011.8, 0.8, -1.0, 2.6],
  [2011.86, 1.7, -0.1, 3.5], [2011.92, -0.6, -2.4, 1.2], [2011.98, 1.1, -0.7, 2.9], [2012.04, 0.3, -1.5, 2.1],
  [2012.1, 1.5, -0.3, 3.3], [2012.16, -1.6, -3.5, 0.2], [2012.21, -3.9, -7.2, -1.2], [2012.28, 0.7, -1.1, 2.5],
  [2012.36, -0.2, -2.0, 1.6], [2012.44, 1.2, -0.6, 3.0], [2012.52, 0.1, -1.7, 1.9], [2012.6, 1.4, -0.4, 3.2],
  [2012.68, -0.9, -2.7, 0.9], [2012.76, 0.6, -1.2, 2.4], [2012.82, -1.4, -3.2, 0.4], [2012.88, 2.5, 0.3, 5.3],
  [2012.94, 0.4, -1.4, 2.2], [2013.0, 1.0, -0.8, 2.8], [2013.05, 0.2, -1.6, 2.0],
];

const LT_R_DOTS = [
  [2001.7, 3.2], [2001.8, -3.5], [2001.9, 4.1], [2002.1, -2.8], [2002.3, -7.4], [2002.5, 4.5], [2002.6, -3.4],
  [2002.8, 3.0], [2002.97, 9.6], [2002.99, 9.2], [2003.1, 7.8], [2003.2, -4.4], [2003.85, 7.8], [2003.92, -4.2],
  [2004.1, -6.8], [2004.3, -8.2], [2004.5, 4.0], [2004.8, -4.5], [2005.0, 4.8], [2005.3, -3.3], [2005.5, -4.9],
  [2005.7, -5.3], [2006.0, -5.9], [2006.2, 3.6], [2006.5, -4.4], [2006.9, -7.0], [2007.0, -5.4], [2007.3, -4.6],
  [2007.5, -6.5], [2007.7, -5.0], [2008.0, -6.0], [2008.2, -4.5], [2008.4, -7.2], [2008.6, -8.6], [2008.8, -5.7],
  [2009.1, -4.2], [2009.3, -5.9], [2009.45, -6.8], [2009.6, -7.4], [2009.7, -4.9], [2010.0, -5.6], [2010.2, 4.6],
  [2010.55, 5.6], [2010.6, -8.7], [2010.9, -6.1], [2011.3, 6.8], [2011.4, -9.5], [2011.6, -6.5], [2011.7, 8.0],
  [2011.9, -5.3], [2012.2, -8.6], [2012.4, 4.2], [2012.7, -6.0], [2012.95, 6.5], [2013.0, -5.0], [2003.3, 2.9],
  [2006.7, -3.8], [2008.9, -3.9], [2010.4, -3.5], [2012.1, -3.6],
];

const LEGEND = ['values against each reference station', 'median values and quartile deviations'];

const CAPTION_BOLD = 'Figure 7 Temporal changes in index parameters for the vertical component at TYS.';
const CAPTION_LINES = [
  'Maximum cross-correlation coefficients (top), amplitude',
  'ratios (middle), and lag time errors (bottom) as a function of the teleseismic event time for the vertical component at TYS. Left and right figures',
  'represent results for 50 to 100 s and 100 to 200 s periods, respectively. Gray dots are values for each reference station, while open circles',
  'and error bars are medians and quartile deviations for all reference stations at each event. Open squares represent medians that exceed the',
  'frame limit.',
];

// layout
const COL_X = [80, 630];
const ROW_Y = [90, 308, 527];
const PW = 468;
const PH = 187;
const FONT = "'Liberation Sans', Arial, Helvetica, sans-serif";

const ROWS = [
  { log: false, domain: [0.5, 1.05], labels: CC_LABELS, minor: CC_MINOR, ref: 1 },
  { log: true, domain: [0.5, 2], labels: AR_LABELS, minor: AR_MINOR, ref: 1 },
  { log: false, domain: [-10, 10], labels: LT_LABELS, minor: LT_MINOR, ref: 0 },
];

const SERIES = [
  [[CC_L, CC_L_DOTS], [AR_L, AR_L_DOTS], [LT_L, LT_L_DOTS]],
  [[CC_R, CC_R_DOTS], [AR_R, AR_R_DOTS], [LT_R, LT_R_DOTS]],
];

function Panel({ col, row }: { col: number; row: number }) {
  const x0 = COL_X[col];
  const y0 = ROW_Y[row];
  const cfg = ROWS[row];
  const [events, dots] = SERIES[col][row] as [number[][], number[][]];
  const x = d3.scaleLinear().domain(X_DOMAIN).range([x0, x0 + PW]);
  const y: any = (cfg.log ? d3.scaleLog() : d3.scaleLinear()).domain(cfg.domain).range([y0 + PH, y0]);
  const yc = y.copy().clamp(true);
  const clipId = `clip-${col}-${row}`;
  const cap = 3.5;
  const yTitle = Y_TITLES[col][row];
  const titleX = x0 - 39;
  const titleY = row === 2 ? y0 + PH / 2 - 1 : y0 + PH / 2;

  return (
    <g>
      <defs>
        <clipPath id={clipId}>
          <rect x={x0} y={y0} width={PW} height={PH} />
        </clipPath>
      </defs>
      <rect x={x0} y={y0} width={PW} height={PH} fill="#fff" />
      {GRID_YEARS.map((yr) => (
        <line key={yr} x1={x(yr)} x2={x(yr)} y1={y0} y2={y0 + PH} stroke="#c4c4c4" strokeWidth={1} />
      ))}
      <line x1={x0} x2={x0 + PW} y1={y(cfg.ref)} y2={y(cfg.ref)} stroke="#c4c4c4" strokeWidth={1} />
      <g clipPath={`url(#${clipId})`}>
        {dots.map((d, i) => (
          <circle key={i} cx={x(d[0])} cy={y(d[1])} r={1.3} fill="#a8a8a8" />
        ))}
        {events.map((d, i) => {
          const cx = x(d[0]);
          const lo = yc(d[2]);
          const hi = yc(d[3]);
          return (
            <g key={i} stroke="#1a1a1a" strokeWidth={0.9}>
              <line x1={cx} x2={cx} y1={lo} y2={hi} />
              <line x1={cx - cap} x2={cx + cap} y1={lo} y2={lo} />
              <line x1={cx - cap} x2={cx + cap} y1={hi} y2={hi} />
            </g>
          );
        })}
        {events.map((d, i) => (
          <circle key={i} cx={x(d[0])} cy={yc(d[1])} r={3.4} fill="#fff" stroke="#1a1a1a" strokeWidth={1} />
        ))}
      </g>
      {cfg.minor.map((v) => (
        <g key={v} stroke="#555" strokeWidth={1}>
          <line x1={x0} x2={x0 + 4} y1={y(v)} y2={y(v)} />
          <line x1={x0 + PW - 4} x2={x0 + PW} y1={y(v)} y2={y(v)} />
        </g>
      ))}
      <rect x={x0} y={y0} width={PW} height={PH} fill="none" stroke="#555" strokeWidth={1.6} />
      {cfg.labels.map(([v, s]) => (
        <text key={s as string} x={x0 - 6} y={y(v as number) + 5} textAnchor="end" fontSize={14} fill="#333" fontFamily={FONT}>
          {s}
        </text>
      ))}
      <text
        transform={`translate(${titleX},${titleY}) rotate(-90)`}
        textAnchor="middle"
        fontSize={15}
        fill="#444"
        fontFamily={FONT}
        style={{ whiteSpace: 'pre' }}
      >
        {yTitle}
      </text>
      {row === 2 &&
        X_LABELS.map((yr) => (
          <text key={yr} x={x(yr) - 12} y={731} textAnchor="middle" fontSize={14} fill="#333" fontFamily={FONT}>
            {yr}
          </text>
        ))}
    </g>
  );
}

export default function App() {
  const capFont = "'Open Sans', 'Noto Sans', sans-serif";
  const capEnds = [1262, 1262, 1237, 1265, 105];
  return (
    <svg
      width={1289}
      height={888}
      style={{ position: 'absolute', left: 0, top: 0, background: '#fff' }}
      xmlns="http://www.w3.org/2000/svg"
    >
      <rect x={0} y={0} width={1289} height={888} fill="#fff" />
      <rect x={7.5} y={8.5} width={1276} height={876} rx={14} fill="none" stroke="#222" strokeWidth={1.6} />
      {TITLES.map((t, c) => (
        <text
          key={t}
          x={COL_X[c] + 3}
          y={81}
          fontSize={31}
          fill="#111"
          fontFamily={FONT}
          textLength={c === 0 ? 334 : 351}
          lengthAdjust="spacingAndGlyphs"
        >
          {t}
        </text>
      ))}
      {[0, 1].map((c) => [0, 1, 2].map((r) => <Panel key={`${c}-${r}`} col={c} row={r} />))}

      {/* legend */}
      <rect x={990} y={26} width={283} height={54} fill="#fff" stroke="#333" strokeWidth={1.5} />
      <circle cx={999} cy={40} r={1.3} fill="#a8a8a8" />
      <g stroke="#1a1a1a" strokeWidth={0.9}>
        <line x1={999} x2={999} y1={56} y2={76} />
        <line x1={996} x2={1002} y1={56} y2={56} />
        <line x1={996} x2={1002} y1={76} y2={76} />
      </g>
      <circle cx={999} cy={67} r={3} fill="#fff" stroke="#1a1a1a" strokeWidth={0.9} />
      <text x={1010} y={45} fontSize={14} fill="#222" fontFamily={FONT} textLength={252} lengthAdjust="spacingAndGlyphs">
        {LEGEND[0]}
      </text>
      <text x={1010} y={72} fontSize={14} fill="#222" fontFamily={FONT} textLength={254} lengthAdjust="spacingAndGlyphs">
        {LEGEND[1]}
      </text>

      {/* caption */}
      <text x={23} y={770} fontSize={18} fontWeight="bold" fill="#111" fontFamily={capFont} textLength={588} lengthAdjust="spacingAndGlyphs">
        {CAPTION_BOLD}
      </text>
      {CAPTION_LINES.map((line, i) => {
        const xs = i === 0 ? 620 : 23;
        return (
          <text
            key={i}
            x={xs}
            y={770 + i * 27}
            fontSize={18}
            fill="#222"
            fontFamily={capFont}
            textLength={capEnds[i] - xs}
            lengthAdjust="spacingAndGlyphs"
          >
            {line}
          </text>
        );
      })}
    </svg>
  );
}
